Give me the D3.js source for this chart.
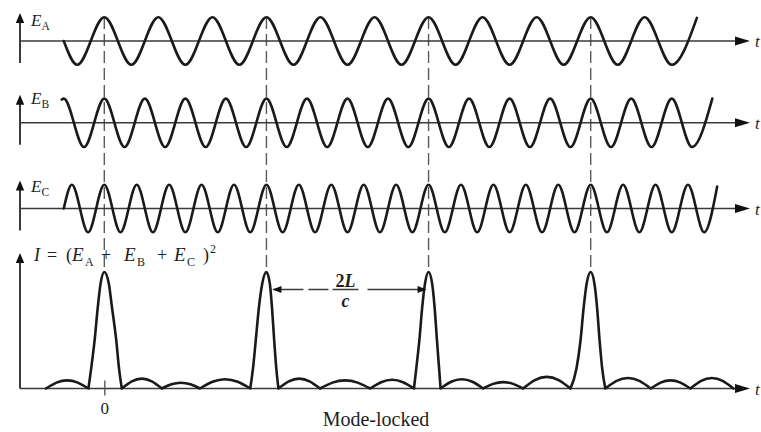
<!DOCTYPE html>
<html><head><meta charset="utf-8">
<script src="https://cdn.jsdelivr.net/npm/d3@7"></script>
<style>
html,body{margin:0;padding:0;background:#fff;}
svg{display:block;}
text{font-family:"Liberation Serif","Times New Roman",serif;fill:#1e1e1e;}
</style></head><body>
<svg id="fig" width="761" height="432"></svg>
<script>
// Time t is measured in round-trip times (2L/c); fields have unit amplitude.
const roundTrips = [0, 1, 2, 3];
const tickLabels = ["0"];
const caption = "Mode-locked";

// Extrema of each longitudinal mode field, [t, E]
const modeA = [[-0.25,0],[-0.167,-1],[0,1],[0.167,-1],[0.333,1],[0.5,-1],[0.667,1],[0.833,-1],[1,1],[1.167,-1],[1.333,1],[1.5,-1],[1.667,1],[1.833,-1],[2,1],[2.167,-1],[2.333,1],[2.5,-1],[2.667,1],[2.833,-1],[3,1],[3.167,-1],[3.333,1],[3.5,-1],[3.655,0.97]];
const modeB = [[-0.262,0.96],[-0.25,1],[-0.125,-1],[0,1],[0.125,-1],[0.25,1],[0.375,-1],[0.5,1],[0.625,-1],[0.75,1],[0.875,-1],[1,1],[1.125,-1],[1.25,1],[1.375,-1],[1.5,1],[1.625,-1],[1.75,1],[1.875,-1],[2,1],[2.125,-1],[2.25,1],[2.375,-1],[2.5,1],[2.625,-1],[2.75,1],[2.875,-1],[3,1],[3.125,-1],[3.25,1],[3.375,-1],[3.5,1],[3.625,-1],[3.75,1]];
const modeC = [[-0.25,0],[-0.2,1],[-0.1,-1],[0,1],[0.1,-1],[0.2,1],[0.3,-1],[0.4,1],[0.5,-1],[0.6,1],[0.7,-1],[0.8,1],[0.9,-1],[1,1],[1.1,-1],[1.2,1],[1.3,-1],[1.4,1],[1.5,-1],[1.6,1],[1.7,-1],[1.8,1],[1.9,-1],[2,1],[2.1,-1],[2.2,1],[2.3,-1],[2.4,1],[2.5,-1],[2.6,1],[2.7,-1],[2.8,1],[2.9,-1],[3,1],[3.1,-1],[3.2,1],[3.3,-1],[3.4,1],[3.5,-1],[3.6,1],[3.7,-1],[3.78,0.92]];

// Intensity: outline of each main pulse as [t, I], normalised to the peak
const pulses = [
  [[-0.098,0],[-0.081,0.17],[-0.06,0.41],[-0.04,0.7],[-0.023,0.9],[0,1],[0.028,0.9],[0.047,0.7],[0.074,0.41],[0.091,0.17],[0.108,0]],
  [[0.9,0],[0.917,0.17],[0.934,0.41],[0.954,0.7],[0.974,0.9],[1,1],[1.021,0.9],[1.034,0.7],[1.048,0.41],[1.061,0.17],[1.074,0]],
  [[1.91,0],[1.924,0.17],[1.943,0.41],[1.961,0.7],[1.978,0.9],[2,1],[2.022,0.9],[2.037,0.7],[2.052,0.41],[2.065,0.17],[2.074,0]],
  [[2.875,0],[2.912,0.17],[2.937,0.41],[2.957,0.7],[2.975,0.9],[3,1],[3.023,0.9],[3.039,0.7],[3.055,0.41],[3.071,0.17],[3.09,0]]
];
// Weak side lobes between pulses: [start, end, height]
const sideLobes = [
  [-0.36,-0.098,0.07],
  [0.108,0.355,0.085],[0.355,0.59,0.05],[0.59,0.9,0.08],
  [1.074,1.33,0.085],[1.33,1.64,0.07],[1.64,1.91,0.075],
  [2.074,2.336,0.08],[2.336,2.583,0.055],[2.583,2.875,0.1],
  [3.09,3.37,0.09],[3.37,3.615,0.07],[3.615,3.88,0.09]
];

const svg = d3.select("#fig");
const ink = "#1a1a1a", axisInk = "#3a3a3a", dashInk = "#5a5a5a";
const x = d3.scaleLinear().domain([0, 3]).range([104.3, 590.7]);
const axisLeft = 20, axisTip = 750;

const panels = [
  {sub: "A", data: modeA, y0: 41,    amp: 23.8, labelY: 25.5},
  {sub: "B", data: modeB, y0: 122.8, amp: 24.2, labelY: 103.5},
  {sub: "C", data: modeC, y0: 208.5, amp: 23.8, labelY: 192}
];
const iy = d3.scaleLinear().domain([0, 1]).range([388.5, 272]);

function hArrow(g, y) {
  g.append("line").attr("x1", axisLeft).attr("x2", axisTip - 8).attr("y1", y).attr("y2", y)
    .attr("stroke", axisInk).attr("stroke-width", 1.6);
  g.append("path").attr("d", `M${axisTip},${y} L${axisTip - 15},${y - 4.5} L${axisTip - 15},${y + 4.5} Z`)
    .attr("fill", "#111");
  g.append("text").attr("x", axisTip + 5).attr("y", y + 6)
    .attr("font-size", 17).attr("font-style", "italic").text("t");
}
function vArrow(g, yBottom, yTop) {
  g.append("line").attr("x1", axisLeft).attr("x2", axisLeft).attr("y1", yBottom).attr("y2", yTop + 6)
    .attr("stroke", axisInk).attr("stroke-width", 2);
  g.append("path").attr("d", `M${axisLeft},${yTop} L${axisLeft - 4.2},${yTop + 10} L${axisLeft + 4.2},${yTop + 10} Z`)
    .attr("fill", "#111");
}

// Dashed markers at each round-trip time
svg.append("g").selectAll("line").data(roundTrips).join("line")
  .attr("x1", d => x(d)).attr("x2", d => x(d))
  .attr("y1", 17).attr("y2", 270)
  .attr("stroke", dashInk).attr("stroke-width", 1.4)
  .attr("stroke-dasharray", "12,5");

// Field panels
const waveLine = d3.line().curve(d3.curveMonotoneX);
panels.forEach(p => {
  const g = svg.append("g");
  const y = d3.scaleLinear().domain([-1, 1]).range([p.y0 + p.amp, p.y0 - p.amp]);
  hArrow(g, p.y0);
  vArrow(g, p.y0 + 22, p.y0 - 28);
  g.append("path")
    .attr("d", waveLine.x(d => x(d[0])).y(d => y(d[1]))(p.data))
    .attr("fill", "none").attr("stroke", ink).attr("stroke-width", 2.6)
    .attr("stroke-linecap", "round").attr("stroke-linejoin", "round");
  const t = g.append("text").attr("x", 31).attr("y", p.labelY).attr("font-size", 17);
  t.append("tspan").attr("font-style", "italic").text("E");
  t.append("tspan").attr("font-size", 11.5).attr("dy", 4).text(p.sub);
});

// Intensity panel
const ig = svg.append("g");
hArrow(ig, iy(0));
vArrow(ig, iy(0), 253);

const pulseLine = d3.line().x(d => x(d[0])).y(d => iy(d[1])).curve(d3.curveMonotoneX);
const lobeLine = d3.line().x(d => x(d[0])).y(d => iy(d[1])).curve(d3.curveNatural);
// each side lobe is drawn as a rounded hump between its two zeros
const hump = ([a, b, h]) => {
  const w = b - a;
  return lobeLine([[a, 0], [a + w / 4, h * 0.72], [a + w / 2, h], [b - w / 4, h * 0.72], [b, 0]]);
};
const pieces = pulses.map(pts => ({start: pts[0][0], d: pulseLine(pts)}))
  .concat(sideLobes.map(l => ({start: l[0], d: hump(l)})))
  .sort((p, q) => p.start - q.start);
ig.append("path").attr("d", pieces.map(p => p.d).join(""))
  .attr("fill", "none").attr("stroke", ink).attr("stroke-width", 2.6)
  .attr("stroke-linecap", "round").attr("stroke-linejoin", "round");

// Time-origin tick and label
const tAxis = ig.append("g").attr("transform", `translate(0,${iy(0) - 8})`)
  .call(d3.axisBottom(x).tickValues([0]).tickSize(15).tickPadding(6).tickFormat((d, i) => tickLabels[i]));
tAxis.select(".domain").remove();
tAxis.selectAll("line").attr("stroke", dashInk).attr("stroke-width", 1.4);
tAxis.selectAll("text").attr("font-size", 17).attr("fill", "#1e1e1e")
  .attr("font-family", "'Liberation Serif', serif");

// Intensity formula label
const il = ig.append("text").attr("y", 261).attr("font-size", 18);
const parts = [
  {s: "I", x: 34, it: true}, {s: "=", x: 47}, {s: "(", x: 66},
  {s: "E", x: 72, it: true}, {s: "A", x: 85, sub: true}, {s: "+", x: 101},
  {s: "E", x: 124, it: true}, {s: "B", x: 137, sub: true}, {s: "+", x: 157},
  {s: "E", x: 174, it: true}, {s: "C", x: 187, sub: true}, {s: ")", x: 203},
  {s: "2", x: 210, sup: true}
];
parts.forEach(p => {
  il.append("tspan").attr("x", p.x)
    .attr("y", p.sub ? 266 : p.sup ? 253 : 261)
    .attr("font-size", p.sub || p.sup ? 12 : (p.it && p.s === "E" ? 19 : 18))
    .attr("font-style", p.it ? "italic" : null)
    .text(p.s);
});

// Round-trip spacing annotation between two pulses
const ay = 289.5;
const ann = ig.append("g");
ann.append("path").attr("d", `M${x(1) + 7},${ay} L${x(1) + 62},${ay}`)
  .attr("stroke", axisInk).attr("stroke-width", 1.5).attr("stroke-dasharray", "30,5,20");
ann.append("path").attr("d", `M${x(1) + 6},${ay} L${x(1) + 15},${ay - 3.5} L${x(1) + 15},${ay + 3.5} Z`).attr("fill", "#111");
ann.append("line").attr("x1", x(1) + 101).attr("x2", x(2) - 10).attr("y1", ay).attr("y2", ay)
  .attr("stroke", axisInk).attr("stroke-width", 1.5);
ann.append("path").attr("d", `M${x(2) - 2},${ay} L${x(2) - 11},${ay - 3.5} L${x(2) - 11},${ay + 3.5} Z`).attr("fill", "#111");
const fx = (x(1) + x(2)) / 2 - 2;
const num = ann.append("text").attr("x", fx).attr("y", 286.5).attr("text-anchor", "middle")
  .attr("font-size", 18).attr("font-weight", "bold");
num.append("tspan").text("2");
num.append("tspan").attr("font-style", "italic").text("L");
ann.append("line").attr("x1", fx - 13).attr("x2", fx + 13).attr("y1", ay).attr("y2", ay)
  .attr("stroke", axisInk).attr("stroke-width", 1.5);
ann.append("text").attr("x", fx).attr("y", 306.5).attr("text-anchor", "middle")
  .attr("font-size", 18).attr("font-weight", "bold").attr("font-style", "italic").text("c");

// Caption
svg.append("text").attr("x", 376).attr("y", 426).attr("text-anchor", "middle")
  .attr("font-size", 20).text(caption);
</script>
</body></html>
